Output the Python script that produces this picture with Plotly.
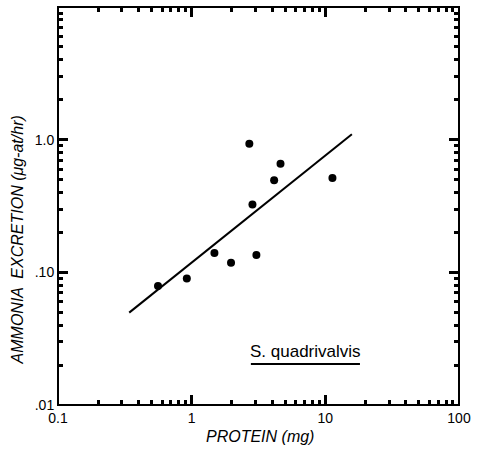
import plotly.graph_objects as go

# Data
protein_mg = [0.56, 0.92, 1.48, 1.97, 2.70, 2.85, 3.05, 4.14, 4.62, 11.3]
ammonia = [0.079, 0.090, 0.140, 0.118, 0.93, 0.324, 0.135, 0.494, 0.659, 0.514]
fit_x = [0.341, 15.8]
fit_y = [0.0497, 1.10]

x_tickvals = [0.1, 1, 10, 100]
x_ticktext = ["0.1", "1", "10", "100"]
y_tickvals = [0.01, 0.1, 1.0]
y_ticktext = [".01", ".10", "1.0"]

x_title = "PROTEIN (mg)"
y_title = "AMMONIA  EXCRETION (μg-at/hr)"
species = "S. quadrivalvis"

x_minor = [m * 10 ** e for e in (-1, 0, 1) for m in range(2, 10)]
y_minor = [m * 10 ** e for e in (-2, -1, 0) for m in range(2, 10)]

fig = go.Figure()
fig.add_trace(go.Scatter(x=fit_x, y=fit_y, mode="lines",
                         line=dict(color="black", width=2), hoverinfo="skip"))
fig.add_trace(go.Scatter(x=protein_mg, y=ammonia, mode="markers",
                         marker=dict(color="black", size=8)))
# invisible trace on mirrored axes (top/right ticks)
fig.add_trace(go.Scatter(x=protein_mg, y=ammonia, xaxis="x2", yaxis="y2",
                         mode="markers", marker=dict(opacity=0), hoverinfo="skip"))

font_family = "Liberation Sans, Arial, sans-serif"

common = dict(type="log", ticks="inside", ticklen=10, tickwidth=3, tickcolor="black",
              showline=True, linecolor="black")
minor_style = dict(ticks="inside", ticklen=5, tickcolor="black")

fig.update_layout(
    width=478, height=453,
    margin=dict(l=58, r=15, t=7, b=48),
    plot_bgcolor="white",
    showlegend=False,
    font=dict(family=font_family, color="black", size=14),
    xaxis=dict(
        range=[-1, 2], tickvals=x_tickvals, ticktext=x_ticktext,
        minor=dict(tickvals=x_minor, **minor_style),
        tickfont=dict(size=14), **common,
    ),
    yaxis=dict(
        range=[-2, 1], tickvals=y_tickvals, ticktext=y_ticktext,
        minor=dict(tickvals=y_minor, **minor_style),
        tickfont=dict(size=14), **common,
    ),
    xaxis2=dict(
        range=[-1, 2], overlaying="x", side="top", anchor="y2",
        tickvals=x_tickvals, showticklabels=False,
        minor=dict(tickvals=x_minor, **minor_style),
        **common,
    ),
    yaxis2=dict(
        range=[-2, 1], overlaying="y", side="right", anchor="x2",
        tickvals=y_tickvals, showticklabels=False,
        minor=dict(tickvals=y_minor, **minor_style),
        **common,
    ),
)

# heavier frame
fig.add_shape(type="rect", xref="paper", yref="paper", x0=0, x1=1, y0=0, y1=1,
              line=dict(color="black", width=2))

# axis titles
fig.add_annotation(xref="paper", yref="paper", x=(262 - 58) / 405, y=(405 - 437) / 398,
                   text="<i>" + x_title + "</i>", showarrow=False,
                   font=dict(size=16, family=font_family, color="black"),
                   xanchor="center", yanchor="middle")
fig.add_annotation(xref="paper", yref="paper", x=(17 - 58) / 405, y=(405 - 240) / 398,
                   text="<i>" + y_title + "</i>", showarrow=False, textangle=-90,
                   font=dict(size=16, family=font_family, color="black"),
                   xanchor="center", yanchor="middle")

fig.add_annotation(
    xref="paper", yref="paper", x=0.617, y=0.135,
    text=species, showarrow=False,
    font=dict(size=17, family=font_family, color="black"),
    xanchor="center", yanchor="middle",
)
fig.add_shape(type="line", xref="paper", yref="paper",
              x0=0.481, x1=0.753, y0=0.103, y1=0.103,
              line=dict(color="black", width=2))

fig.write_html("out.html")
